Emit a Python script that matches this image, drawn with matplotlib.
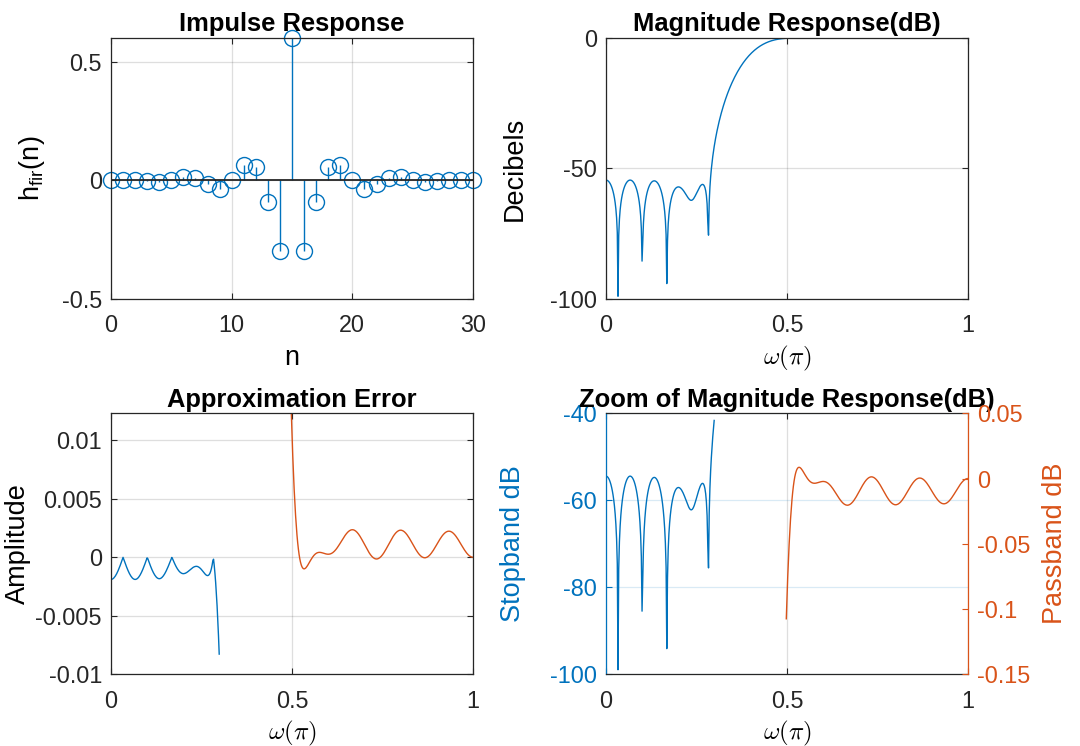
import numpy as np
import matplotlib
matplotlib.use("Agg")
import matplotlib.pyplot as plt
from matplotlib.ticker import FormatStrFormatter

# highpass FIR taps (31-tap Hamming design, unity gain at pi), n = 0..30
n = np.arange(31)
h_fir = [0.0, 0.001945, 0.001722, -0.002614, -0.006383, 0.0, 0.013368,
         0.011492, -0.015701, -0.034380, 0.0, 0.064093, 0.056824,
         -0.089730, -0.299356, 0.599336, -0.299356, -0.089730, 0.056824,
         0.064093, 0.0, -0.034380, -0.015701, 0.011492, 0.013368, 0.0,
         -0.006383, -0.002614, 0.001722, 0.001945, 0.0]

# band edges in units of pi
ws = 0.3
wp = 0.5
nfreq = 512

BLUE = '#0072BD'
ORANGE = '#D95319'
AXC = '#262626'
TICK = 16.8
LAB = 19.5

plt.rcParams['font.family'] = ['Liberation Sans', 'DejaVu Sans']
plt.rcParams['font.size'] = TICK
plt.rcParams['axes.unicode_minus'] = False
plt.rcParams['mathtext.fontset'] = 'custom'
plt.rcParams['mathtext.rm'] = 'Liberation Sans'
plt.rcParams['mathtext.it'] = 'Liberation Sans:italic'
plt.rcParams['mathtext.bf'] = 'Liberation Sans:bold'

# frequency response on nfreq bins over [0, pi)
H = np.fft.fft(h_fir, 2 * nfreq)[:nfreq]
k = np.arange(nfreq)
w = k / nfreq
mag = np.abs(H)
db = 20 * np.log10(mag + np.finfo(float).eps)

stop = k <= int(ws * nfreq)
pas = k >= int(wp * nfreq) - 1
err_stop = -mag[stop]
err_pass = 1 - mag[pas]


def style(ax):
    ax.tick_params(direction='in', length=4, width=0.8, colors=AXC,
                   top=True, right=True, labelsize=TICK)
    ax.tick_params(axis='x', pad=11)
    ax.tick_params(axis='y', pad=6.5)
    for s in ax.spines.values():
        s.set_color(AXC)
        s.set_linewidth(0.9)
    ax.grid(True, color=AXC, alpha=0.15, linewidth=0.9)
    ax.set_axisbelow(True)


def wlabel(ax):
    ax.set_xlabel(r'$\omega(\pi)$', math_fontfamily='cm', fontsize=18)
    ax.xaxis.set_label_coords(0.5, -0.171)


fig = plt.figure(figsize=(10.8, 7.46), dpi=100)
W, HH = 0.3352, 0.3499
ax1 = fig.add_axes([0.1028, 0.5992, W, HH])
ax2 = fig.add_axes([0.5611, 0.5992, W, HH])
ax3 = fig.add_axes([0.1028, 0.0961, W, HH])
ax4 = fig.add_axes([0.5611, 0.0961, W, HH])

title_kw = dict(fontsize=18.4, fontweight='bold', pad=4.8)

# impulse response
style(ax1)
ml, sl, bl = ax1.stem(n, h_fir)
ml.set_markerfacecolor('none')
ml.set_markeredgecolor(BLUE)
ml.set_markersize(11.5)
ml.set_markeredgewidth(1.0)
ml.set_clip_on(False)
sl.set_color(BLUE)
sl.set_linewidth(1.0)
bl.set_color(AXC)
bl.set_linewidth(1.3)
ax1.set_xlim(0, 30)
ax1.set_ylim(-0.5, 0.6)
ax1.set_xticks([0, 10, 20, 30])
ax1.set_yticks([-0.5, 0, 0.5])
ax1.yaxis.set_major_formatter(FormatStrFormatter('%g'))
ax1.set_title('Impulse Response', **title_kw)
ax1.set_xlabel('n', fontsize=LAB)
ax1.xaxis.set_label_coords(0.5, -0.176)
ax1.set_ylabel(r'h$_{\rm fir}$(n)', math_fontfamily='custom', fontsize=LAB)
ax1.yaxis.set_label_coords(-0.178, 0.5)

# magnitude response
style(ax2)
ax2.plot(w, db, color=BLUE, linewidth=1.0)
ax2.set_xlim(0, 1)
ax2.set_ylim(-100, 0)
ax2.set_xticks([0, 0.5, 1])
ax2.set_yticks([-100, -50, 0])
ax2.xaxis.set_major_formatter(FormatStrFormatter('%g'))
ax2.set_title('Magnitude Response(dB)', **title_kw)
wlabel(ax2)
ax2.set_ylabel('Decibels', fontsize=LAB)
ax2.yaxis.set_label_coords(-0.216, 0.5)

# approximation error
style(ax3)
ax3.plot(w[stop], err_stop, color=BLUE, linewidth=1.0)
ax3.plot(w[pas], err_pass, color=ORANGE, linewidth=1.0)
ax3.set_xlim(0, 1)
ax3.set_ylim(-0.01, err_pass.max())
ax3.set_xticks([0, 0.5, 1])
ax3.set_yticks([-0.01, -0.005, 0, 0.005, 0.01])
ax3.xaxis.set_major_formatter(FormatStrFormatter('%g'))
ax3.yaxis.set_major_formatter(FormatStrFormatter('%g'))
ax3.set_title('Approximation Error', **title_kw)
wlabel(ax3)
ax3.set_ylabel('Amplitude', fontsize=LAB)
ax3.yaxis.set_label_coords(-0.221, 0.5)

# zoomed magnitude, stopband on the left axis, passband on the right
style(ax4)
ax4.grid(False)
ax4.grid(True, axis='x', color=AXC, alpha=0.15, linewidth=0.9)
ax4.grid(True, axis='y', color=BLUE, alpha=0.15, linewidth=0.9)
ax4.plot(w[stop], db[stop], color=BLUE, linewidth=1.0)
ax4.set_xlim(0, 1)
ax4.set_ylim(-100, -40)
ax4.set_xticks([0, 0.5, 1])
ax4.set_yticks([-100, -80, -60, -40])
ax4.xaxis.set_major_formatter(FormatStrFormatter('%g'))
ax4.tick_params(axis='y', colors=BLUE, right=False)
ax4.spines['left'].set_color(BLUE)
ax4.spines['right'].set_visible(False)
ax4.set_title('Zoom of Magnitude Response(dB)', **title_kw)
wlabel(ax4)
ax4.set_ylabel('Stopband dB', color=BLUE, fontsize=LAB)
ax4.yaxis.set_label_coords(-0.221, 0.5)

ax4r = ax4.twinx()
ax4r.plot(w[pas], db[pas], color=ORANGE, linewidth=1.0)
ax4r.set_ylim(-0.15, 0.05)
ax4r.set_yticks([-0.15, -0.1, -0.05, 0, 0.05])
ax4r.yaxis.set_major_formatter(FormatStrFormatter('%g'))
ax4r.tick_params(axis='y', direction='in', length=4, width=0.8,
                 colors=ORANGE, pad=6.5, labelsize=TICK)
for side in ('left', 'top', 'bottom'):
    ax4r.spines[side].set_visible(False)
ax4r.spines['right'].set_color(ORANGE)
ax4r.spines['right'].set_linewidth(0.9)
ax4r.set_ylabel('Passband dB', color=ORANGE, fontsize=LAB)
ax4r.yaxis.set_label_coords(1.2036, 0.5)

fig.savefig('out.png', dpi=100)
